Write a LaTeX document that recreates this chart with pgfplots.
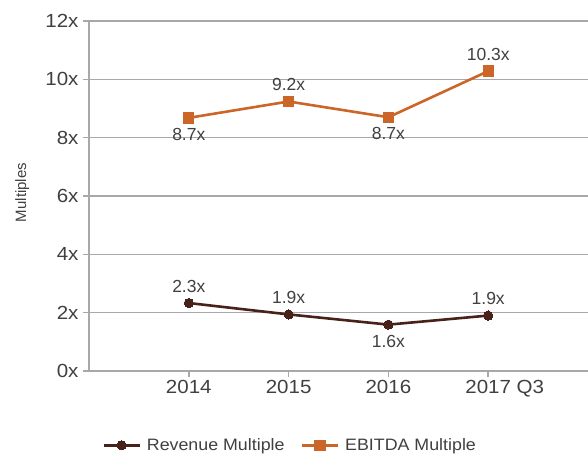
\documentclass[border=0pt]{standalone}
\usepackage{pgfplots}
\pgfplotsset{compat=1.18}
\usepackage{fontspec}
\setmainfont{Liberation Sans}
\newfontfamily\widefont[FakeStretch=1.08]{Liberation Sans}
\definecolor{revc}{RGB}{72,34,24}
\definecolor{ebc}{RGB}{204,101,40}
\definecolor{gridc}{RGB}{168,168,170}
\definecolor{txtc}{RGB}{64,64,64}
\begin{document}
\begin{tikzpicture}
\begin{axis}[
  scale only axis,
  width=499pt, height=350pt,
  xmin=-1, xmax=4,
  ymin=0, ymax=12,
  axis x line*=bottom, axis y line*=left,
  axis line style={draw=gridc, line width=1.6pt, -},
  xtick={0,1,2,3},
  xticklabels={2014,2015,2016,{2017\rlap{\ Q3}}},
  ytick={0,2,4,6,8,10,12},
  yticklabels={0x,2x,4x,6x,8x,10x,12x},
  ymajorgrids,
  grid style={draw=gridc, line width=1.6pt},
  tick align=outside,
  major tick length=6pt,
  tick style={draw=gridc, line width=1.6pt},
  /pgf/number format/assume math mode=true,
  tick label style={font=\widefont\fontsize{19}{21}\selectfont, text=txtc},
  yticklabel style={xshift=-1pt},
  xticklabel style={yshift=0pt},
  ylabel={Multiples},
  every axis y label/.style={at={(axis description cs:-0.134,0.51)}, rotate=90, anchor=center, font=\fontsize{15}{17}\selectfont, text=txtc},
  legend columns=2,
  legend style={at={(axis description cs:0.403,-0.212)}, anchor=center, draw=none, fill=none,
    font=\widefont\fontsize{16.5}{18}\selectfont, text=txtc,
    /tikz/every odd column/.append style={column sep=4pt},
    /tikz/every even column/.append style={column sep=14pt}},
  legend image code/.code={\draw[mark repeat=2,mark phase=2,#1] plot coordinates {(0pt,0pt) (18pt,0pt) (36pt,0pt)};},
  clip=false,
]
\addplot[color=revc, line width=2.6pt, mark=*, mark size=4.6pt, mark options={solid, line width=0pt}]
  coordinates {(0,2.33) (1,1.94) (2,1.59) (3,1.90)};
\addlegendentry{Revenue Multiple}
\addplot[color=ebc, line width=2.6pt, mark=square*, mark size=5.2pt, mark options={solid, line width=0pt}]
  coordinates {(0,8.68) (1,9.24) (2,8.70) (3,10.28)};
\addlegendentry{EBITDA Multiple}
% labels above
\addplot[draw=none, forget plot, nodes near coords, point meta=explicit symbolic,
  every node near coord/.style={font=\fontsize{17.5}{19}\selectfont, text=txtc, anchor=south, yshift=7pt}]
  coordinates {(1,9.24)[9.2x] (3,10.28)[10.3x] (0,2.33)[2.3x] (1,1.94)[1.9x] (3,1.90)[1.9x]};
% labels below
\addplot[draw=none, forget plot, nodes near coords, point meta=explicit symbolic,
  every node near coord/.style={font=\fontsize{17.5}{19}\selectfont, text=txtc, anchor=north, yshift=-7pt}]
  coordinates {(0,8.68)[8.7x] (2,8.70)[8.7x] (2,1.59)[1.6x]};
\end{axis}
\pgfresetboundingbox
\useasboundingbox (-89pt,-83pt) rectangle (499pt,371pt);
\end{tikzpicture}
\end{document}
